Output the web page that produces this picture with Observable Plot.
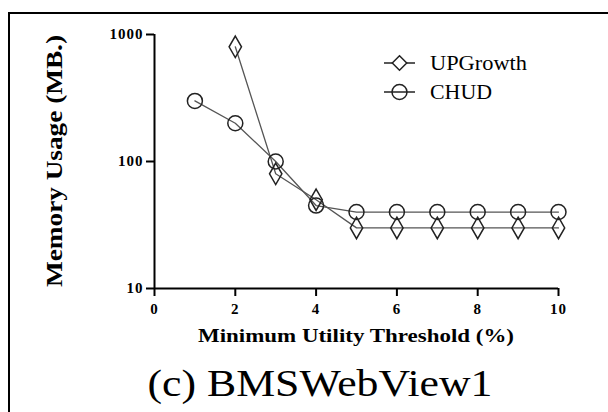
<!DOCTYPE html>
<html><head><meta charset="utf-8">
<script src="https://cdn.jsdelivr.net/npm/d3@7"></script>
<script src="https://cdn.jsdelivr.net/npm/@observablehq/plot@0.6"></script>
<style>
html,body{margin:0;padding:0;background:#fff;}
#wrap{position:relative;width:608px;height:412px;overflow:hidden;background:#fff;}
#frame{position:absolute;left:8px;top:12px;width:620px;height:420px;border-top:2.5px solid #000;border-left:2.5px solid #000;}
#chart{position:absolute;left:0;top:0;}
#over{position:absolute;left:0;top:0;}
#chart svg, #chart svg text, #over text{font-family:"Liberation Serif","Times New Roman",serif !important;}
</style></head>
<body><div id="wrap"><div id="frame"></div><div id="chart"></div><svg id="over" width="608" height="412"></svg></div>
<script>
const thresholds = [1, 2, 3, 4, 5, 6, 7, 8, 9, 10];
const upgrowth = [null, 800, 80, 50, 30, 30, 30, 30, 30, 30];
const chud = [300, 200, 100, 45, 40, 40, 40, 40, 40, 40];
const seriesNames = ["UPGrowth", "CHUD"];
const xTicks = [0, 2, 4, 6, 8, 10];
const yTicks = [10, 100, 1000];
const xTitle = "Minimum Utility Threshold (%)";
const yTitle = "Memory Usage (MB.)";
const caption = "(c) BMSWebView1";

const rows = [];
thresholds.forEach((t, i) => {
  if (upgrowth[i] != null) rows.push({series: "UPGrowth", x: t, y: upgrowth[i]});
  if (chud[i] != null) rows.push({series: "CHUD", x: t, y: chud[i]});
});
const up = rows.filter(d => d.series === "UPGrowth");
const ch = rows.filter(d => d.series === "CHUD");

const plot = Plot.plot({
  width: 608, height: 320,
  marginLeft: 154, marginRight: 50, marginTop: 34, marginBottom: 32,
  style: {fontSize: "15px", fontWeight: "bold", letterSpacing: "1px", color: "#000", background: "transparent"},
  x: {domain: [0, 10]},
  y: {type: "log", domain: [10, 1000]},
  marks: [
    Plot.line(up, {x: "x", y: "y", stroke: "#555", strokeWidth: 1.3}),
    Plot.line(ch, {x: "x", y: "y", stroke: "#555", strokeWidth: 1.3}),
    Plot.dot(up, {x: "x", y: "y", symbol: "diamond", r: 6.5, stroke: "#222", strokeWidth: 1.5, fill: "none"}),
    Plot.dot(ch, {x: "x", y: "y", symbol: "circle", r: 7.5, stroke: "#222", strokeWidth: 1.5, fill: "none"}),
    Plot.axisX({ticks: xTicks, tickSize: 8, tickPadding: 7, label: null, strokeWidth: 2, tickFormat: d => String(d)}),
    Plot.axisY({ticks: yTicks, tickSize: 8, tickPadding: 3, label: null, strokeWidth: 2, tickFormat: d => String(d)}),
    Plot.ruleX([0], {strokeWidth: 2}),
    Plot.ruleY([10], {strokeWidth: 2})
  ]
});
document.getElementById("chart").appendChild(plot);

const svg = d3.select("#over");
svg.append("text").text(yTitle)
  .attr("transform", "translate(62,161) rotate(-90)")
  .attr("text-anchor", "middle")
  .attr("font-weight", "bold").attr("font-size", 24)
  .attr("textLength", 252).attr("lengthAdjust", "spacingAndGlyphs");
svg.append("text").text(xTitle)
  .attr("x", 356).attr("y", 342)
  .attr("text-anchor", "middle")
  .attr("font-weight", "bold").attr("font-size", 19)
  .attr("textLength", 316).attr("lengthAdjust", "spacingAndGlyphs");
svg.append("text").text(caption)
  .attr("x", 320).attr("y", 396)
  .attr("text-anchor", "middle")
  .attr("font-size", 38)
  .attr("textLength", 345).attr("lengthAdjust", "spacingAndGlyphs");

const legendY = [63, 92];
const legendLens = [97, 62];
seriesNames.forEach((name, i) => {
  const g = svg.append("g").attr("transform", `translate(0,${legendY[i]})`);
  g.append("line").attr("x1", 384).attr("x2", 415).attr("stroke", "#222").attr("stroke-width", 1.5);
  const sym = i === 0 ? d3.symbolDiamond2 : d3.symbolCircle;
  const rr = i === 0 ? 6.5 : 7.5;
  g.append("path").attr("d", d3.symbol(sym, Math.PI * rr * rr)())
    .attr("transform", "translate(399.5,0)")
    .attr("fill", i === 0 ? "#fff" : "none").attr("stroke", "#222").attr("stroke-width", 1.5);
  g.append("text").text(name).attr("x", 430).attr("y", 7)
    .attr("font-size", 20)
    .attr("textLength", legendLens[i]).attr("lengthAdjust", "spacingAndGlyphs");
});
</script></body></html>
